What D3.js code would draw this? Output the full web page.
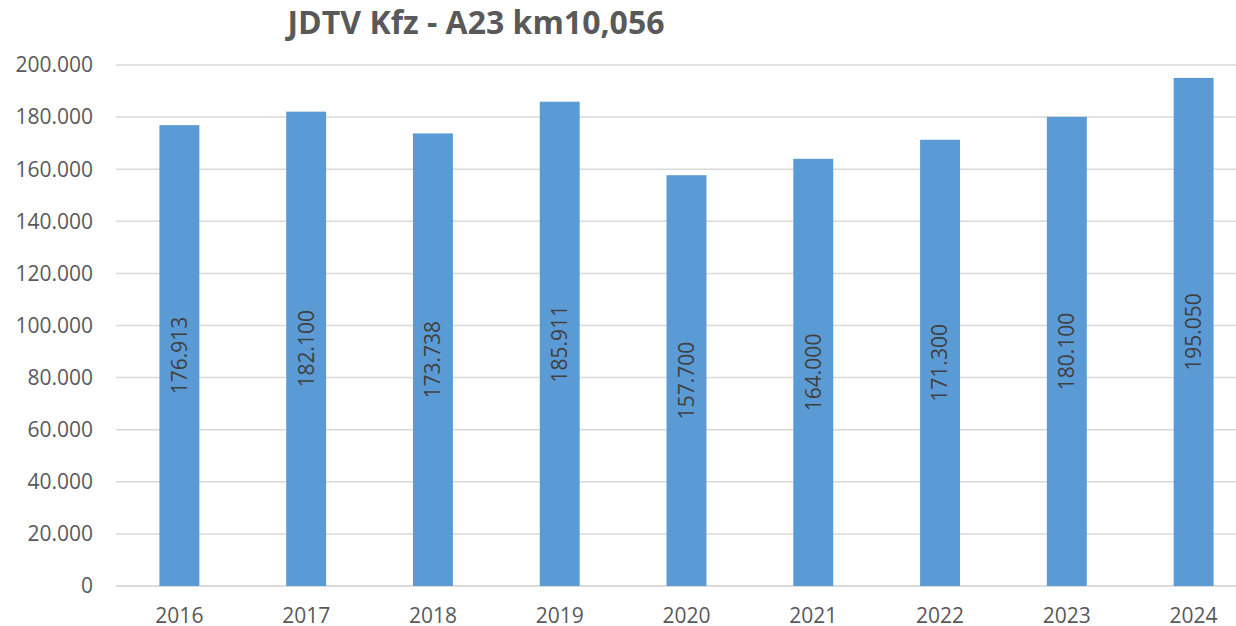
<!DOCTYPE html>
<html>
<head>
<meta charset="utf-8">
<script src="https://cdn.jsdelivr.net/npm/d3@7"></script>
<style>
    body { margin: 0; background: #fff; }
    svg { display: block; font-family: "Open Sans", "Noto Sans", sans-serif; }
</style>
</head>
<body>
<div id="chart"></div>
<script>
    const years = ['2016', '2017', '2018', '2019', '2020', '2021', '2022', '2023', '2024'];
    const values = [176913, 182100, 173738, 185911, 157700, 164000, 171300, 180100, 195050];
    const yTicks = [0, 20000, 40000, 60000, 80000, 100000, 120000, 140000, 160000, 180000, 200000];
    const title = 'JDTV Kfz - A23 km10,056';

    const svgWidth = 1236;
    const svgHeight = 626;

    const svg = d3.select('#chart')
        .append('svg')
        .attr('width', svgWidth)
        .attr('height', svgHeight);

    // plot area runs past the right edge, as in the reference
    const x = d3.scaleBand().domain(years).range([116, 1257]).paddingInner(0.685).paddingOuter(0.3425);
    const y = d3.scaleLinear().domain([0, 200000]).range([586, 65]);

    const fmt = d3.formatLocale({decimal: ',', thousands: '.', grouping: [3], currency: ['', '€']}).format(',d');

    // gridlines
    svg.append('g')
        .selectAll('line')
        .data(yTicks)
        .join('line')
        .attr('x1', 116)
        .attr('x2', 1257)
        .attr('y1', d => y(d))
        .attr('y2', d => y(d))
        .attr('stroke', d => d === 0 ? '#d0d0d0' : '#d9d9d9')
        .attr('stroke-width', 1.5);

    // y labels
    svg.append('g')
        .selectAll('text')
        .data(yTicks)
        .join('text')
        .attr('x', 93)
        .attr('y', d => y(d))
        .attr('dy', '0.35em')
        .attr('text-anchor', 'end')
        .style('font-size', '21px')
        .style('fill', '#595959')
        .text(d => fmt(d));

    const rows = years.map((yr, i) => ({year: yr, value: values[i]}));

    // bars
    svg.append('g')
        .selectAll('rect')
        .data(rows)
        .join('rect')
        .attr('x', d => x(d.year))
        .attr('width', x.bandwidth())
        .attr('y', d => y(d.value))
        .attr('height', d => y(0) - y(d.value))
        .attr('fill', '#5B9BD5');

    // value labels, rotated, centred in bar
    svg.append('g')
        .selectAll('text')
        .data(rows)
        .join('text')
        .attr('transform', d => `translate(${x(d.year) + x.bandwidth() / 2},${(y(d.value) + y(0)) / 2}) rotate(-90)`)
        .attr('text-anchor', 'middle')
        .attr('dy', '0.35em')
        .style('font-size', '21px')
        .style('fill', '#404040')
        .text(d => fmt(d.value));

    // x labels
    svg.append('g')
        .selectAll('text')
        .data(years)
        .join('text')
        .attr('x', d => x(d) + x.bandwidth() / 2)
        .attr('y', 616)
        .attr('dy', '0.35em')
        .attr('text-anchor', 'middle')
        .style('font-size', '21px')
        .style('fill', '#595959')
        .text(d => d);

    //title
    svg.append('text')
        .attr('x', 476)
        .attr('y', 34)
        .attr('text-anchor', 'middle')
        .style('font-size', '32px')
        .style('font-weight', 'bold')
        .style('fill', '#595959')
        .text(title);
</script>
</body>
</html>
